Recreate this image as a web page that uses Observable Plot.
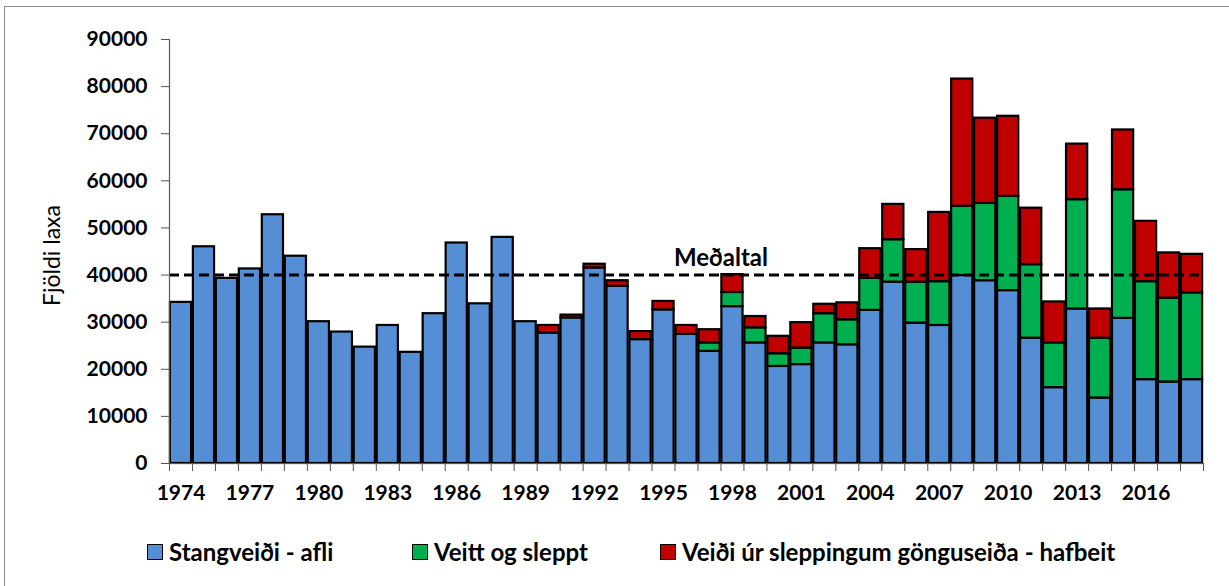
<!DOCTYPE html>
<html>
<head>
<meta charset="utf-8">
<script src="https://cdn.jsdelivr.net/npm/d3@7"></script>
<script src="https://cdn.jsdelivr.net/npm/@observablehq/plot@0.6"></script>
<style>
  html, body { margin: 0; padding: 0; background: #fff; overflow: hidden; }
  body { width: 1229px; height: 586px; position: relative; font-family: Lato, "Open Sans", sans-serif; }
  #frame { position: absolute; left: 4px; top: 6px; width: 1260px; height: 620px; border: 1.5px solid #8f8f8f; box-sizing: border-box; }
  #chart { position: absolute; left: 0; top: 0; }
  #legend { position: absolute; left: 0; top: 537px; width: 1229px; height: 30px; }
  .item { position: absolute; top: 0; display: flex; align-items: center; font-weight: 700; font-size: 24px; color: #000; white-space: nowrap; }
  .sw { width: 14px; height: 14px; border: 1.5px solid #000; margin-right: 6px; }
</style>
</head>
<body>
<div id="frame"></div>
<div id="chart"></div>
<div id="legend"></div>
<script>
const years = [1974,1975,1976,1977,1978,1979,1980,1981,1982,1983,1984,1985,1986,1987,1988,1989,
  1990,1991,1992,1993,1994,1995,1996,1997,1998,1999,2000,2001,2002,2003,2004,2005,2006,2007,
  2008,2009,2010,2011,2012,2013,2014,2015,2016,2017,2018];

const stangveidi = [34200,46000,39300,41300,52800,44000,30100,27900,24700,29300,23600,31800,46800,33900,48000,30100,
  27700,30900,41500,37600,26300,32600,27400,23800,33300,25600,20600,21000,25600,25200,32500,38500,29800,29300,
  39900,38800,36700,26600,16100,32800,13900,30800,17800,17300,17800];

const veittSleppt = [0,0,0,0,0,0,0,0,0,0,0,0,0,0,0,0,
  0,0,0,0,0,0,0,1800,3000,3200,2700,3500,6200,5300,6800,9000,8700,9300,
  14700,16400,20000,15600,9500,23200,12700,27300,20800,17800,18400];

const hafbeit = [0,0,0,0,0,0,0,0,0,0,0,0,0,0,0,0,
  1600,600,800,1200,1700,1800,1900,2800,3800,2400,3700,5400,2000,3600,6300,7500,6900,14700,
  27000,18100,17000,12000,8700,11800,6200,12700,12800,9600,8200];

const seriesNames = ["Stangveiði - afli", "Veitt og sleppt", "Veiði úr sleppingum gönguseiða - hafbeit"];
const seriesColors = ["#558ED5", "#00B050", "#C00000"];
const meanValue = 40000;
const meanLabel = "Meðaltal";
const yTicks = [0,10000,20000,30000,40000,50000,60000,70000,80000,90000];
const labelYears = [1974,1977,1980,1983,1986,1989,1992,1995,1998,2001,2004,2007,2010,2013,2016];
const yTitle = "Fjöldi laxa";

const seriesValues = [stangveidi, veittSleppt, hafbeit];
const rows = [];
years.forEach((yr, i) => {
  seriesValues.forEach((vals, s) => {
    if (vals[i] > 0) rows.push({year: yr, series: seriesNames[s], value: vals[i], order: s});
  });
});
const boundaries = years.map(y => y - 0.5).concat([years[years.length - 1] + 0.5]);

const font = "Lato, 'Open Sans', sans-serif";

const chart = Plot.plot({
  width: 1229,
  height: 522,
  marginLeft: 169,
  marginRight: 26,
  marginTop: 39,
  marginBottom: 59,
  style: {fontFamily: font, fontSize: "21px", fontWeight: 700, color: "#000", background: "transparent"},
  x: {domain: [years[0] - 0.5, years[years.length - 1] + 0.5]},
  y: {domain: [0, 90000]},
  color: {domain: seriesNames, range: seriesColors},
  marks: [
    Plot.rectY(rows, {
      x1: d => d.year - 0.5,
      x2: d => d.year + 0.5,
      y: "value",
      fill: "series",
      order: seriesNames,
      stroke: "#000",
      strokeWidth: 2.2,
      insetLeft: 0.9,
      insetRight: 0.9
    }),
    Plot.ruleY([meanValue], {stroke: "#000", strokeWidth: 3, strokeDasharray: "10,5"}),
    Plot.text([meanLabel], {
      x: () => 1997.5, y: () => meanValue, text: d => d,
      lineAnchor: "bottom", dy: -9, fontSize: 24, fontWeight: 700, fill: "#000"
    }),
    Plot.frame({anchor: "left", stroke: "#555", strokeWidth: 1.2}),
    Plot.frame({anchor: "bottom", stroke: "#555", strokeWidth: 1.2}),
    Plot.axisY({ticks: yTicks, tickSize: 8, tickPadding: 14, tickFormat: d => String(d), label: null, stroke: "#555", fontSize: 21, fontWeight: 700}),
    Plot.axisX({ticks: boundaries, tickSize: 8, tickFormat: () => "", label: null, stroke: "#555"}),
    Plot.axisX({ticks: labelYears, tickSize: 0, tickPadding: 22, tickFormat: d => String(d), label: null, fontSize: 21, fontWeight: 700}),
    Plot.text([yTitle], {
      frameAnchor: "left", text: d => d, rotate: -90, dx: -117, dy: 4,
      textAnchor: "middle", lineAnchor: "middle", fontSize: 23, fontWeight: 400, fill: "#000"
    })
  ]
});
document.getElementById("chart").appendChild(chart);

const legendLefts = [147, 412, 660];
const legend = document.getElementById("legend");
seriesNames.forEach((name, i) => {
  const item = document.createElement("div");
  item.className = "item";
  item.style.left = legendLefts[i] + "px";
  const sw = document.createElement("div");
  sw.className = "sw";
  sw.style.background = seriesColors[i];
  const t = document.createElement("span");
  t.textContent = name;
  item.appendChild(sw);
  item.appendChild(t);
  legend.appendChild(item);
});
</script>
</body>
</html>
